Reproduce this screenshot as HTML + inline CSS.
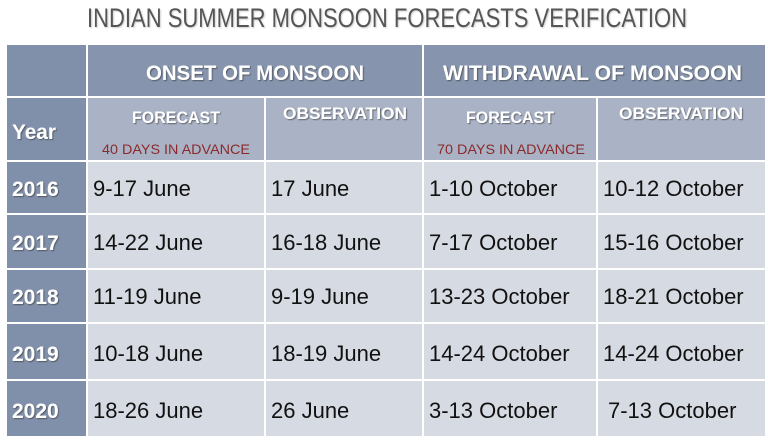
<!DOCTYPE html>
<html><head><meta charset="utf-8"><style>
html,body{margin:0;padding:0;background:#fff;width:768px;height:444px;overflow:hidden}
svg text{font-family:"Liberation Sans",sans-serif}
</style></head><body>
<svg width="768" height="444" xmlns="http://www.w3.org/2000/svg">
<defs><filter id="sh"><feDropShadow dx="1" dy="1" stdDeviation="0.6" flood-color="#333" flood-opacity="0.6"/></filter>
<filter id="sh2"><feDropShadow dx="1" dy="1" stdDeviation="0.8" flood-color="#888" flood-opacity="0.4"/></filter></defs>
<text x="87" y="27" font-size="27" fill="#555" textLength="600" lengthAdjust="spacingAndGlyphs" filter="url(#sh2)">INDIAN SUMMER MONSOON FORECASTS VERIFICATION</text>
<rect x="7" y="45" width="79" height="51" fill="#8190aa"/>
<rect x="88" y="45" width="334" height="51" fill="#8694ad"/>
<rect x="424" y="45" width="341" height="51" fill="#8694ad"/>
<rect x="7" y="98" width="79" height="62" fill="#8190aa"/>
<rect x="88" y="98" width="176" height="62" fill="#aab3c5"/>
<rect x="266" y="98" width="156" height="62" fill="#aab3c5"/>
<rect x="424" y="98" width="172" height="62" fill="#aab3c5"/>
<rect x="598" y="98" width="167" height="62" fill="#aab3c5"/>
<g fill="#fff" font-weight="bold" filter="url(#sh)">
<text x="146" y="80" font-size="21" textLength="218" lengthAdjust="spacingAndGlyphs">ONSET OF MONSOON</text>
<text x="443" y="80" font-size="21" textLength="299" lengthAdjust="spacingAndGlyphs">WITHDRAWAL OF MONSOON</text>
<text x="12" y="139" font-size="21" textLength="44" lengthAdjust="spacingAndGlyphs">Year</text>
<text x="132" y="123" font-size="17" textLength="88" lengthAdjust="spacingAndGlyphs">FORECAST</text>
<text x="283" y="119" font-size="17" textLength="124" lengthAdjust="spacingAndGlyphs">OBSERVATION</text>
<text x="466" y="123" font-size="17" textLength="88" lengthAdjust="spacingAndGlyphs">FORECAST</text>
<text x="619" y="119" font-size="17" textLength="124" lengthAdjust="spacingAndGlyphs">OBSERVATION</text>
</g>
<text x="102" y="154" font-size="14" fill="#8b2a2a" textLength="148" lengthAdjust="spacingAndGlyphs">40 DAYS IN ADVANCE</text>
<text x="437" y="154" font-size="14" fill="#8b2a2a" textLength="148" lengthAdjust="spacingAndGlyphs">70 DAYS IN ADVANCE</text>
<rect x="7" y="162" width="79" height="51" fill="#8190aa"/>
<rect x="88" y="162" width="677" height="51" fill="#d6dae2"/>
<rect x="7" y="215" width="79" height="53" fill="#8190aa"/>
<rect x="88" y="215" width="677" height="53" fill="#d6dae2"/>
<rect x="7" y="270" width="79" height="52" fill="#8190aa"/>
<rect x="88" y="270" width="677" height="52" fill="#d6dae2"/>
<rect x="7" y="324" width="79" height="55" fill="#8190aa"/>
<rect x="88" y="324" width="677" height="55" fill="#d6dae2"/>
<rect x="7" y="381" width="79" height="55" fill="#8190aa"/>
<rect x="88" y="381" width="677" height="55" fill="#d6dae2"/>
<g stroke="#fff" stroke-width="2">
<line x1="265" y1="162" x2="265" y2="436"/>
<line x1="423" y1="162" x2="423" y2="436"/>
<line x1="597" y1="162" x2="597" y2="436"/>
</g>
<g fill="#fff" font-weight="bold" font-size="21" filter="url(#sh)">
<text x="12" y="196">2016</text>
<text x="12" y="250">2017</text>
<text x="12" y="304">2018</text>
<text x="12" y="361">2019</text>
<text x="12" y="418">2020</text>
</g>
<g fill="#111" font-size="22">
<text x="93" y="196">9-17 June</text><text x="271" y="196">17 June</text><text x="429" y="196">1-10 October</text><text x="603" y="196">10-12 October</text>
<text x="93" y="250">14-22 June</text><text x="271" y="250">16-18 June</text><text x="429" y="250">7-17 October</text><text x="603" y="250">15-16 October</text>
<text x="93" y="304">11-19 June</text><text x="271" y="304">9-19 June</text><text x="429" y="304">13-23 October</text><text x="603" y="304">18-21 October</text>
<text x="93" y="361">10-18 June</text><text x="271" y="361">18-19 June</text><text x="429" y="361">14-24 October</text><text x="603" y="361">14-24 October</text>
<text x="93" y="418">18-26 June</text><text x="271" y="418">26 June</text><text x="429" y="418">3-13 October</text><text x="608" y="418">7-13 October</text>
</g>
</svg>
</body></html>
